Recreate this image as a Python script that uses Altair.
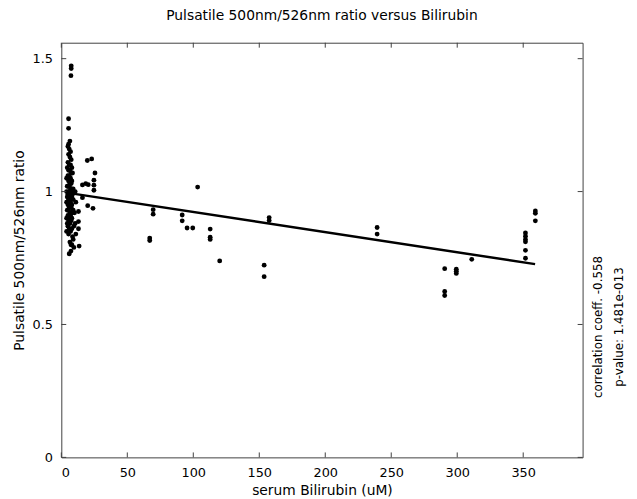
import altair as alt
import pandas as pd

# ---- data ----
bili = [7.5, 7.5, 7.3, 5.5, 5.5, 6.5, 5.5, 7.3, 13.5, 7.3, 6.0,
        19.7, 23.0, 25.5, 24.7, 24.7, 24.7, 16.0, 18.5, 20.4, 16.0, 20.0, 24.0, 13.0, 13.0, 13.0,
        67.0, 67.0, 69.6, 69.6,
        103.3, 91.6, 91.6, 95.3, 99.6, 112.8, 112.8, 112.8, 120.0, 153.7, 153.7, 157.5, 157.5,
        239.3, 239.3,
        290.5, 290.5, 290.5, 299.3, 299.3, 299.3, 311.0,
        351.7, 351.7, 351.7, 351.7, 351.7, 351.7, 359.2, 359.2, 359.2,
        # dense cluster at low bilirubin
        5, 6, 7, 5.5, 6.5, 7.5, 5, 6, 7, 8, 4.5, 5.5, 6.5, 7.5, 8.5, 5, 6, 7, 4, 8,
        5.5, 6.5, 7.5, 4.5, 5, 6, 7, 8, 9, 4, 5.5, 6.5, 7.5, 8.5, 5, 6, 7, 4.5, 8, 5.5,
        6.5, 9, 4, 7, 5, 8, 6, 7.5, 4.5, 5.5, 9, 6.5, 8.5, 5, 7, 4, 6, 8, 5.5, 7.5,
        4.5, 6.5, 5, 9.5, 6, 8, 4, 7, 5.5, 8.5, 9, 6.5, 8, 9.5, 10.5, 11, 10, 10.5, 11]
ratio = [1.473, 1.463, 1.436, 1.274, 1.238, 1.19, 1.178, 0.80, 0.795, 0.776, 0.766,
         1.117, 1.123, 1.07, 1.043, 1.024, 1.005, 1.025, 1.03, 1.026, 0.977, 0.947, 0.937, 0.925, 0.887, 0.860,
         0.825, 0.816, 0.932, 0.915,
         1.017, 0.912, 0.89, 0.863, 0.863, 0.859, 0.828, 0.82, 0.739, 0.723, 0.68, 0.902, 0.891,
         0.865, 0.84,
         0.71, 0.624, 0.609, 0.708, 0.700, 0.692, 0.745,
         0.844, 0.832, 0.82, 0.811, 0.779, 0.749, 0.927, 0.918, 0.89,
         1.17, 1.16, 1.15, 1.14, 1.13, 1.12, 1.11, 1.10, 1.10, 1.09, 1.09, 1.08, 1.08, 1.07, 1.07, 1.06, 1.06, 1.05, 1.05, 1.04,
         1.04, 1.03, 1.03, 1.02, 1.02, 1.02, 1.01, 1.01, 1.01, 1.00, 1.00, 1.00, 1.00, 0.99, 0.99, 0.99, 0.98, 0.98, 0.98, 0.97,
         0.97, 0.97, 0.96, 0.96, 0.95, 0.95, 0.94, 0.94, 0.93, 0.93, 0.93, 0.92, 0.92, 0.91, 0.91, 0.90, 0.90, 0.90, 0.89, 0.89,
         0.88, 0.88, 0.87, 0.87, 0.86, 0.86, 0.85, 0.85, 0.84, 0.83, 0.82, 0.81, 0.80, 0.79, 1.00, 0.96, 0.92, 0.88, 0.84]

fit_x = [5, 359]
fit_y = [0.995, 0.727]

x_ticks = [0, 50, 100, 150, 200, 250, 300, 350]
y_ticks = [0, 0.5, 1, 1.5]

W, H = 528, 420
FONT = "DejaVu Sans"
AX = "#404040"

pts = pd.DataFrame({"x": bili, "y": ratio})
fit = pd.DataFrame({"x": fit_x, "y": fit_y})
xt = pd.DataFrame({"x": x_ticks})
yt = pd.DataFrame({"y": y_ticks})

xs = alt.Scale(domain=[0, 395], nice=False, zero=False)
ys = alt.Scale(domain=[0, 1.56], nice=False, zero=False)

xax = alt.Axis(values=x_ticks, title="serum Bilirubin (uM)", labelPadding=9, titlePadding=5)
yax = alt.Axis(values=y_ticks, title="Pulsatile 500nm/526nm ratio", labelPadding=9, titlePadding=6,
               labelExpr="datum.value == 0 ? '0' : datum.value == 1 ? '1' : format(datum.value, '.1f')")

X = alt.X("x:Q", scale=xs, axis=xax)
Y = alt.Y("y:Q", scale=ys, axis=yax)

scatter = alt.Chart(pts).mark_circle(color="black", size=24, opacity=1).encode(x=X, y=Y)

line = alt.Chart(fit).mark_line(color="black", strokeWidth=2.5).encode(x=X, y=Y)

tb = alt.Chart(xt).mark_rule(color=AX).encode(x=X, y=alt.value(H), y2=alt.value(H - 5))
tt = alt.Chart(xt).mark_rule(color=AX).encode(x=X, y=alt.value(0), y2=alt.value(5))
tl = alt.Chart(yt).mark_rule(color=AX).encode(y=Y, x=alt.value(0), x2=alt.value(5))
tr = alt.Chart(yt).mark_rule(color=AX).encode(y=Y, x=alt.value(W), x2=alt.value(W - 5))

n1 = alt.Chart(pd.DataFrame({"label": ["correlation coeff. -0.558"]})).mark_text(
    angle=270, align="center", baseline="middle", font=FONT, fontSize=12, color="black").encode(
    x=alt.value(544), y=alt.value(288), text="label:N")
n2 = alt.Chart(pd.DataFrame({"label": ["p-value: 1.481e-013"]})).mark_text(
    angle=270, align="center", baseline="middle", font=FONT, fontSize=12, color="black").encode(
    x=alt.value(565), y=alt.value(288), text="label:N")

chart = alt.layer(scatter, line, tb, tt, tl, tr, n1, n2).properties(
    width=W, height=H,
    title=alt.TitleParams("Pulsatile 500nm/526nm ratio versus Bilirubin", font=FONT,
                          fontSize=14, fontWeight="normal", color="black", offset=20),
    autosize=alt.AutoSizeParams(type="none"),
    padding={"left": 54, "top": 32, "right": 47, "bottom": 40},
).configure_view(stroke=AX, strokeWidth=1).configure_axis(
    domain=False, ticks=False, grid=False, labelFont=FONT, titleFont=FONT,
    labelFontSize=13, titleFontSize=14, labelColor="black", titleColor="black",
    titleFontWeight="normal",
)

chart.save("out.html", embed_options={"renderer": "svg", "actions": False})
